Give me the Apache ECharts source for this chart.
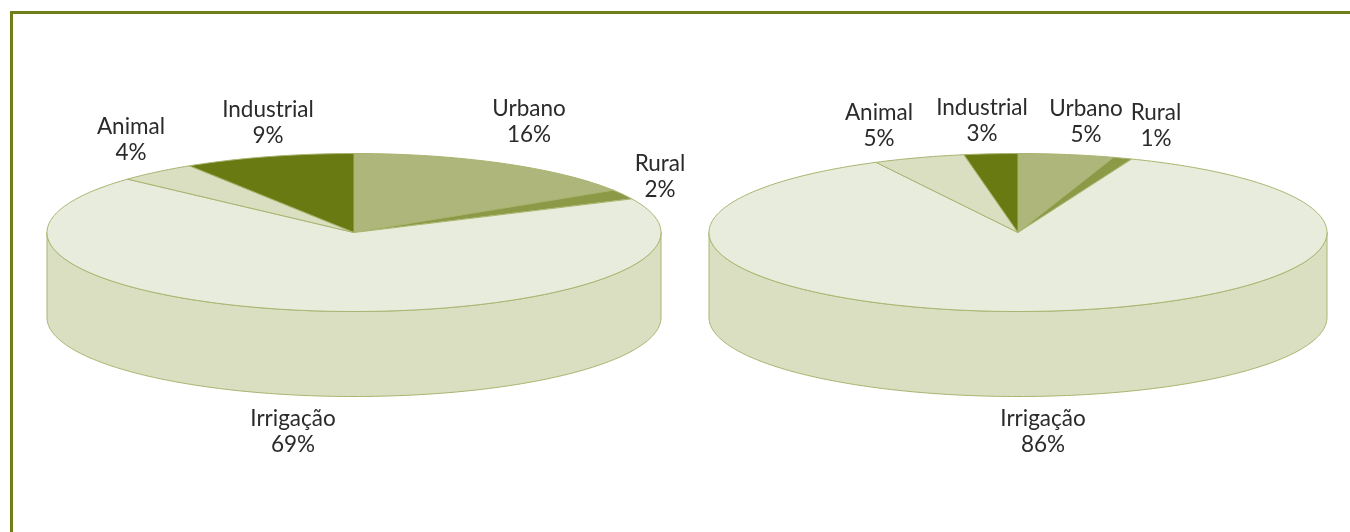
<!DOCTYPE html>
<html>
<head>
<meta charset="utf-8">
<title>Irrigação</title>
<script src="https://cdn.jsdelivr.net/npm/echarts@6/dist/echarts.min.js"></script>
<style>
html, body { margin: 0; padding: 0; background: #fff; }
#chart { width: 1350px; height: 532px; }
</style>
</head>
<body>
<div id="chart"></div>
<script>
const categories = ['Urbano', 'Rural', 'Irrigação', 'Animal', 'Industrial'];
// fractions, labels show them rounded
const valuesLeft = [16, 2, 68.8, 4.2, 9];
const valuesRight = [5, 1, 86.4, 4.8, 2.8];

const colors = ['#aeb67c', '#8c9a47', '#e8ecdd', '#dadfc2', '#6a7a13'];
const wallColor = '#dadfc2';
const edgeColor = '#a9b56f';

// label centres, same order as categories
const labelsLeft = [[529, 122], [660, 177], [293, 432], [131, 140], [268, 123]];
const labelsRight = [[1086, 122], [1156, 126], [1043, 432], [879, 126], [982, 121]];

const DEPTH = 85;

function arcPoints(pie, from, to) {
    let pts = [];
    let steps = Math.max(2, Math.ceil((to - from) / 1));
    for (let i = 0; i <= steps; i++) {
        let deg = from + (to - from) * i / steps;
        let rad = deg * Math.PI / 180;
        pts.push([pie.cx + pie.rx * Math.sin(rad), pie.cy - pie.ry * Math.cos(rad)]);
    }
    return pts;
}

function pieSeries(pie, values, labels) {
    let total = values.reduce((a, b) => a + b, 0);
    let starts = [];
    let sum = 0;
    for (let v of values) {
        starts.push(sum);
        sum += v;
    }
    return {
        type: 'custom',
        coordinateSystem: 'none',
        silent: true,
        data: values.map((v, i) => [v, starts[i]]),
        renderItem: function (params, api) {
            let i = params.dataIndex;
            let from = api.value(1) / total * 360;
            let to = from + api.value(0) / total * 360;
            let children = [];

            // front wall, only the part of the slice facing the viewer
            let wallFrom = Math.max(from, 90);
            let wallTo = Math.min(to, 270);
            if (wallTo > wallFrom) {
                let top = arcPoints(pie, wallFrom, wallTo);
                let bottom = top.map((p) => [p[0], p[1] + DEPTH]).reverse();
                children.push({
                    type: 'polygon',
                    shape: { points: top.concat(bottom) },
                    style: { fill: wallColor, stroke: edgeColor, lineWidth: 1 }
                });
            }

            children.push({
                type: 'polygon',
                shape: { points: [[pie.cx, pie.cy]].concat(arcPoints(pie, from, to)) },
                style: { fill: colors[i], stroke: edgeColor, lineWidth: 1 }
            });

            children.push({
                type: 'text',
                z2: 10,
                style: {
                    x: labels[i][0],
                    y: labels[i][1],
                    text: categories[i] + '\n' + Math.round(api.value(0)) + '%',
                    fill: '#2b2a2c',
                    font: '22.5px Lato',
                    lineHeight: 26,
                    align: 'center',
                    verticalAlign: 'middle'
                }
            });
            return { type: 'group', children: children };
        }
    };
}

let myChart = echarts.init(document.getElementById('chart'), null, { renderer: 'canvas' });
myChart.setOption({
    animation: false,
    backgroundColor: '#fff',
    graphic: [{
        type: 'polyline',
        shape: { points: [[11.5, 532], [11.5, 12.5], [1350, 12.5]] },
        style: { stroke: '#6f7f1a', lineWidth: 3, fill: null }
    }],
    series: [
        pieSeries({ cx: 354, cy: 232.5, rx: 307, ry: 79 }, valuesLeft, labelsLeft),
        pieSeries({ cx: 1018, cy: 232.5, rx: 309, ry: 79 }, valuesRight, labelsRight)
    ]
});
</script>
</body>
</html>
